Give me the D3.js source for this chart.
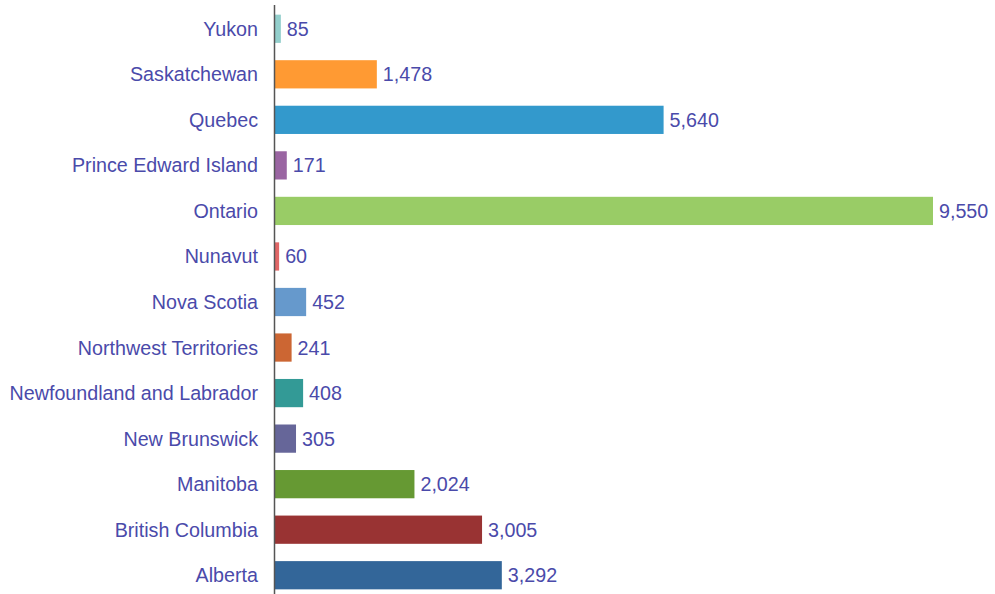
<!DOCTYPE html>
<html>
<head>
<meta charset="utf-8">
<script src="https://cdn.jsdelivr.net/npm/d3@7"></script>
<style>
  body { margin: 0; background: #fff; }
  .label, .value { font-family: "Liberation Sans", Arial, sans-serif; font-size: 19.7px; fill: #4a4aaa; }
</style>
</head>
<body>
<svg id="chart" width="995" height="594"></svg>
<script>
// data, top to bottom as drawn
var provinces = ["Yukon", "Saskatchewan", "Quebec", "Prince Edward Island", "Ontario", "Nunavut",
  "Nova Scotia", "Northwest Territories", "Newfoundland and Labrador", "New Brunswick",
  "Manitoba", "British Columbia", "Alberta"];
var counts = [85, 1478, 5640, 171, 9550, 60, 452, 241, 408, 305, 2024, 3005, 3292];
var barColors = ["#93cfcc", "#ff9a33", "#3399cc", "#9a65a2", "#99cc66", "#e06666", "#6699cc",
  "#cc6633", "#339a96", "#666699", "#669933", "#993333", "#336699"];

var data = provinces.map(function(p, i){ return {key: p, value: counts[i], color: barColors[i]}; });

var svg = d3.select("#chart");
var x0 = 275;

var xScale = d3.scaleLinear().domain([0, 9550]).range([x0, 933]);
var yScale = d3.scaleBand().domain(provinces).range([6, 598]).paddingInner(0.38).paddingOuter(0.19);

// bars
svg.selectAll(".bar")
  .data(data)
  .enter()
  .append("rect")
  .attr("class", "bar")
  .attr("x", x0)
  .attr("y", d => yScale(d.key))
  .attr("height", yScale.bandwidth())
  .attr("width", d => xScale(d.value) - x0)
  .attr("fill", d => d.color);

// category labels
svg.selectAll(".label")
  .data(data)
  .enter()
  .append("text")
  .attr("class", "label")
  .attr("x", x0 - 17)
  .attr("y", d => yScale(d.key) + yScale.bandwidth()/2)
  .attr("text-anchor", "end")
  .attr("dominant-baseline", "central")
  .text(d => d.key);

// value labels
var fmt = d3.format(",");
svg.selectAll(".value")
  .data(data)
  .enter()
  .append("text")
  .attr("class", "value")
  .attr("x", d => xScale(d.value) + 6)
  .attr("y", d => yScale(d.key) + yScale.bandwidth()/2)
  .attr("dominant-baseline", "central")
  .text(d => fmt(d.value));

// axis line
svg.append("line")
  .attr("x1", x0 - 0.5).attr("x2", x0 - 0.5)
  .attr("y1", 5).attr("y2", 594)
  .attr("stroke", "#555")
  .attr("stroke-width", 1.5);
</script>
</body>
</html>
